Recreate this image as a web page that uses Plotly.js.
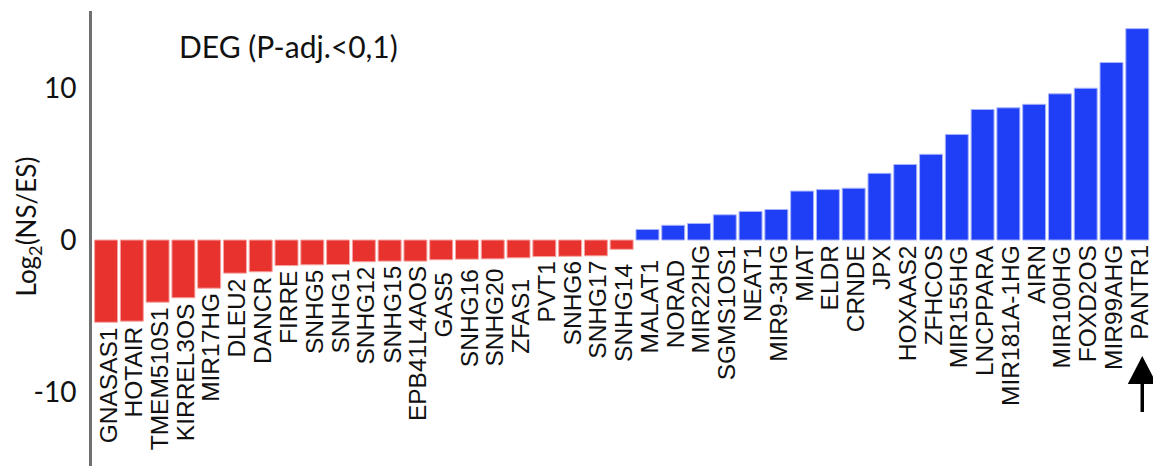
<!DOCTYPE html>
<html>
<head>
<meta charset="utf-8">
<script src="https://cdn.plot.ly/plotly-3.0.1.min.js"></script>
<style>
  html, body { margin: 0; padding: 0; background: #fff; }
  #chart { width: 1153px; height: 466px; }
</style>
</head>
<body>
<div id="chart"></div>
<script>
// Differentially expressed lncRNAs, ranked by log2 fold change (NS vs ES)
const genes = [
  "GNASAS1", "HOTAIR", "TMEM510S1", "KIRREL3OS", "MIR17HG", "DLEU2", "DANCR",
  "FIRRE", "SNHG5", "SNHG1", "SNHG12", "SNHG15", "EPB41L4AOS", "GAS5",
  "SNHG16", "SNHG20", "ZFAS1", "PVT1", "SNHG6", "SNHG17", "SNHG14",
  "MALAT1", "NORAD", "MIR22HG", "SGMS1OS1", "NEAT1", "MIR9-3HG", "MIAT",
  "ELDR", "CRNDE", "JPX", "HOXAAS2", "ZFHCOS", "MIR155HG", "LNCPPARA",
  "MIR181A-1HG", "AIRN", "MIR100HG", "FOXD2OS", "MIR99AHG", "PANTR1"
];
const log2FC = [
  -5.41, -5.34, -4.09, -3.80, -3.17, -2.18, -2.09,
  -1.68, -1.63, -1.61, -1.43, -1.39, -1.39, -1.30,
  -1.26, -1.24, -1.17, -1.09, -1.07, -1.04, -0.61,
  0.69, 0.97, 1.09, 1.66, 1.88, 2.01, 3.22,
  3.32, 3.41, 4.39, 4.97, 5.64, 6.95, 8.59,
  8.70, 8.93, 9.62, 9.99, 11.68, 13.91
];
const yTicks = [-10, 0, 10];
const highlighted = "PANTR1";

const DOWN = "#e8322e", UP = "#1f3ff6";
const DOWN_EDGE = "#f4a3a0", UP_EDGE = "#a8b4fb";

const barTrace = {
  type: "bar",
  x: genes,
  y: log2FC,
  marker: {
    color: log2FC.map(v => v < 0 ? DOWN : UP),
    line: { color: log2FC.map(v => v < 0 ? DOWN_EDGE : UP_EDGE), width: 1 }
  },
  hoverinfo: "x+y"
};

// Gene names sit just beneath each bar (below the baseline for up-regulated ones);
// a few are dropped a little further to keep them clear of their neighbours.
const labelDrop = { SNHG14: 10, MALAT1: 14, NORAD: 15, ZFAS1: 16, GAS5: 8, SNHG16: 5, SNHG20: 5 };
const labelFont = { family: "Liberation Sans, Arial, sans-serif", size: 24.5, color: "#111" };
const geneLabels = genes.map((g, i) => ({
  x: g, y: Math.min(log2FC[i], 0),
  xref: "x", yref: "y",
  text: g, textangle: -90,
  showarrow: false,
  xanchor: "center", yanchor: "top",
  xshift: 2, yshift: -3 - (labelDrop[g] || 0),
  font: labelFont
}));

const yTitle = {
  xref: "paper", yref: "paper",
  x: -0.061, y: 0.527,
  text: "Log<sub>2</sub>(NS/ES)", textangle: -90,
  showarrow: false, xanchor: "center", yanchor: "middle",
  font: { family: "Lato, sans-serif", size: 26, color: "#111" }
};

// Upward arrow pointing at the highlighted gene, sized in pixels around its column
const hiIdx = genes.indexOf(highlighted);
const arrowShapes = [
  {
    type: "path", xref: "x", yref: "y",
    xsizemode: "pixel", ysizemode: "pixel",
    xanchor: hiIdx, yanchor: -7.63,
    path: "M -9.5,-28 L 19.5,-28 L 5,0 Z",
    fillcolor: "#000", line: { width: 0 }
  },
  {
    type: "line", xref: "x", yref: "y",
    xsizemode: "pixel", ysizemode: "pixel",
    xanchor: hiIdx, yanchor: -7.63,
    x0: 5, x1: 5, y0: -27, y1: -56,
    line: { color: "#000", width: 3.5 }
  }
];

const layout = {
  width: 1153, height: 466,
  margin: { l: 92, r: 0, t: 11, b: 0, pad: 0 },
  paper_bgcolor: "#fff", plot_bgcolor: "#fff",
  showlegend: false,
  bargap: 0.11,
  title: {
    text: "DEG (P-adj.<0,1)",
    xref: "container", yref: "container",
    x: 179 / 1153, xanchor: "left",
    y: 1 - 47 / 466, yanchor: "middle",
    font: { family: "Lato, sans-serif", size: 30, color: "#111" }
  },
  xaxis: {
    type: "category",
    range: [-0.545, 40.61],
    showticklabels: false, ticks: "",
    showline: false, showgrid: false, zeroline: false,
    fixedrange: true
  },
  yaxis: {
    range: [-14.87, 15.07],
    tickvals: yTicks, ticktext: yTicks.map(String),
    ticks: "", showgrid: false, zeroline: false,
    showline: true, linecolor: "#707070", linewidth: 3,
    ticklabelstandoff: 7,
    tickfont: { family: "Lato, sans-serif", size: 28, color: "#111" },
    fixedrange: true
  },
  shapes: arrowShapes,
  annotations: [yTitle, ...geneLabels]
};

Plotly.newPlot("chart", [barTrace], layout, { displayModeBar: false, staticPlot: true });
</script>
</body>
</html>
